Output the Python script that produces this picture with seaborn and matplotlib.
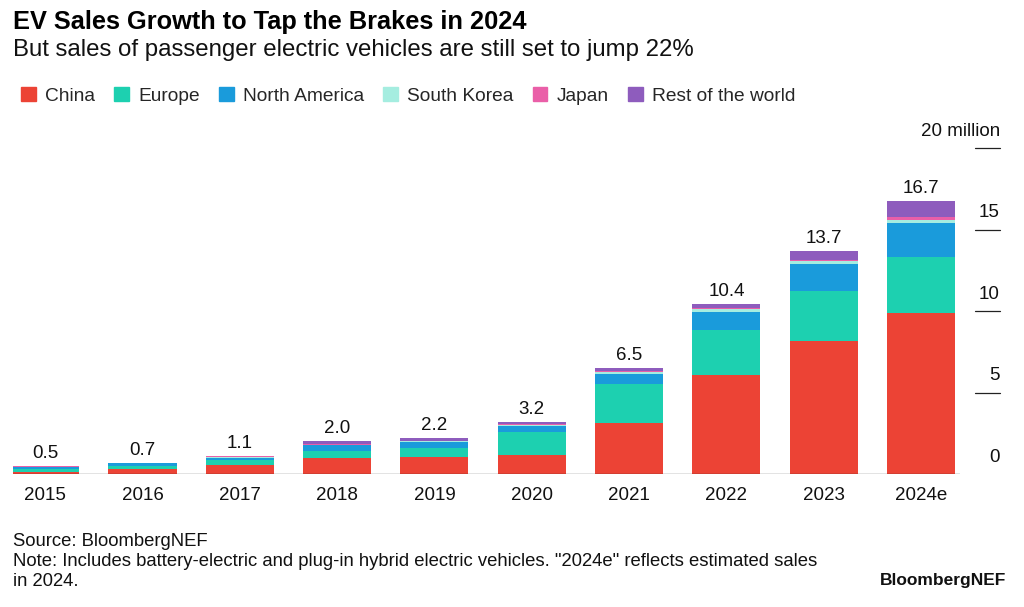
import matplotlib
matplotlib.use("Agg")
import matplotlib.pyplot as plt
import seaborn as sns
import numpy as np
from matplotlib.patches import Patch
from matplotlib.transforms import blended_transform_factory

years = ["2015","2016","2017","2018","2019","2020","2021","2022","2023","2024e"]
china = [0.15,0.30,0.55,1.00,1.05,1.15,3.10,6.10,8.15,9.90]
europe = [0.18,0.20,0.28,0.40,0.55,1.45,2.40,2.75,3.10,3.40]
north_america = [0.12,0.15,0.18,0.35,0.35,0.35,0.65,1.10,1.65,2.10]
south_korea = [0.01,0.01,0.02,0.03,0.05,0.07,0.10,0.15,0.15,0.20]
japan = [0.02,0.02,0.05,0.05,0.04,0.03,0.05,0.10,0.10,0.15]
rest = [0.02,0.02,0.02,0.17,0.16,0.15,0.20,0.20,0.55,1.00]
totals = ["0.5","0.7","1.1","2.0","2.2","3.2","6.5","10.4","13.7","16.7"]
series_names = ["China","Europe","North America","South Korea","Japan","Rest of the world"]
colors = ["#ec4335","#1dd0b0","#1a9bdb","#a5ede0","#ea5fa8","#8e5cbd"]
yticks = [0,5,10,15,20]
ytick_labels = ["0","5","10","15","20 million"]

sns.set_theme(style="white")
plt.rcParams['font.family'] = ['Liberation Sans', 'DejaVu Sans']

fig = plt.figure(figsize=(10.24,6.07), dpi=100)
ax = fig.add_axes([13/1024, 1-474/607, (960-13)/1024, (474-148)/607])

series = [china, europe, north_america, south_korea, japan, rest]
bottom = np.zeros(len(years))
for vals, name, c in zip(series, series_names, colors):
    sns.barplot(x=years, y=vals, bottom=bottom, color=c, width=0.7, ax=ax,
                linewidth=0, saturation=1, label=name, legend=False)
    bottom = bottom + np.array(vals)

for i, (b, t) in enumerate(zip(bottom, totals)):
    ax.text(i, b + 0.25, t, ha="center", va="bottom", fontsize=13.5, color="#111")

ax.set_xlim(-0.33, 9.4)
ax.set_ylim(0, 20)
for s in ax.spines.values():
    s.set_visible(False)
ax.set_yticks([])
ax.tick_params(axis="x", length=0, labelsize=13.5, colors="#111", pad=9)
ax.set_xlabel(""); ax.set_ylabel("")
ax.axhline(0, color="#222", lw=0.9)

tr = blended_transform_factory(ax.transAxes, ax.transData)
x0 = (975-13)/(960-13); x1 = (1000-13)/(960-13)
for v, lab in zip(yticks, ytick_labels):
    if v > 0:
        ax.plot([x0, x1], [v, v], transform=tr, color="#222", lw=0.9, clip_on=False)
    ax.text(x1, v + 0.5, lab, transform=tr, ha="right", va="bottom", fontsize=13.5, color="#111")

fig.text(13/1024, 1-22/607, "EV Sales Growth to Tap the Brakes in 2024", fontsize=18.3, fontweight="bold", va="center", color="#000")
fig.text(13/1024, 1-50/607, "But sales of passenger electric vehicles are still set to jump 22%", fontsize=17.3, va="center", color="#111")
handles = [Patch(color=c, label=n) for n, c in zip(series_names, colors)]
fig.legend(handles=handles, loc="center left", bbox_to_anchor=(4/1024, 1-96/607), ncol=6, frameon=False,
           fontsize=13.8, handlelength=0.75, handleheight=0.75, handletextpad=0.5, columnspacing=1.0)

fig.text(13/1024, 1-541/607, "Source: BloombergNEF", fontsize=13.3, va="center", color="#111")
fig.text(13/1024, 1-562/607, 'Note: Includes battery-electric and plug-in hybrid electric vehicles. "2024e" reflects estimated sales', fontsize=13.3, va="center", color="#111")
fig.text(13/1024, 1-582/607, "in 2024.", fontsize=13.3, va="center", color="#111")
fig.text(1006/1024, 1-580/607, "BloombergNEF", fontsize=12.5, fontweight="bold", ha="right", va="center", color="#111")

fig.savefig("out.png", dpi=100)
